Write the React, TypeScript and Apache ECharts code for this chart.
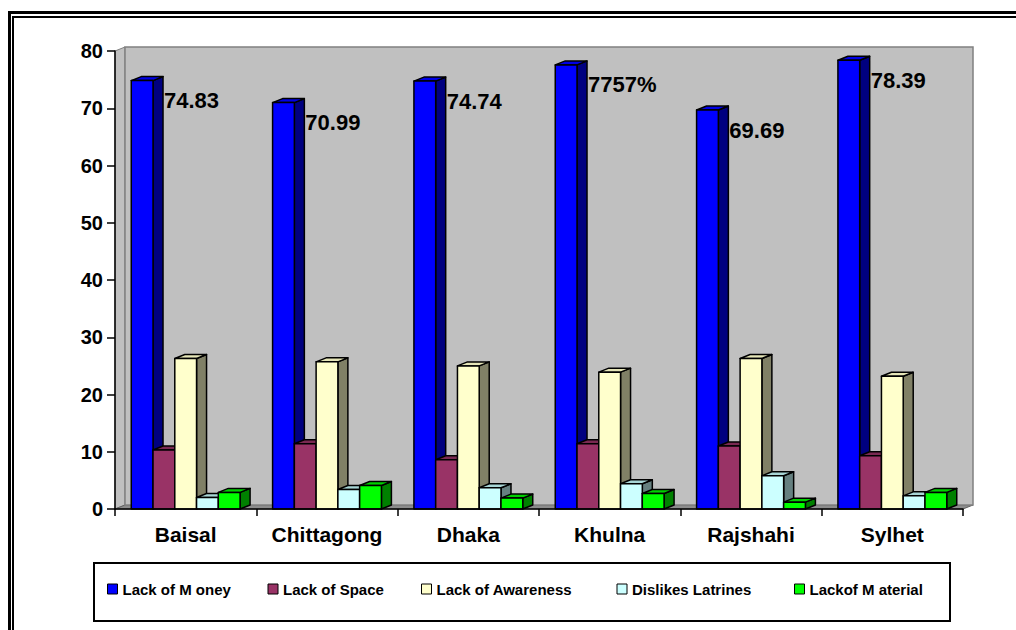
import React, { useEffect, useRef } from "react";
import * as echarts from "echarts";

const categories = ["Baisal", "Chittagong", "Dhaka", "Khulna", "Rajshahi", "Sylhet"];
const lackOfMoney = [74.83, 70.99, 74.74, 77.57, 69.69, 78.39];
const lackOfSpace = [10.3, 11.4, 8.6, 11.4, 11.0, 9.3];
const lackOfAwareness = [26.3, 25.7, 25.0, 23.9, 26.3, 23.2];
const dislikesLatrines = [2.0, 3.4, 3.7, 4.4, 5.8, 2.3];
const lackOfMaterial = [2.9, 4.1, 1.9, 2.7, 1.2, 2.9];
const moneyLabels = ["74.83", "70.99", "74.74", "7757%", "69.69", "78.39"];
const seriesNames = ["Lack of M oney", "Lack of Space", "Lack of Awareness", "Dislikes Latrines", "Lackof M aterial"];
const seriesValues = [lackOfMoney, lackOfSpace, lackOfAwareness, dislikesLatrines, lackOfMaterial];

const FONT = "'Liberation Sans', Arial, sans-serif";
const faceColors = ["#0000FF", "#993366", "#FFFFCC", "#CCFFFF", "#00FF00"];
const topColors = ["#0000E6", "#7A2952", "#E6E6B8", "#A8D6D6", "#00D000"];
const sideColors = ["#000080", "#4D1A33", "#808066", "#668080", "#008000"];
const legendTextWidths = [130, 123, 165, 147, 139];
const DX = 10;
const DY = -4;
const BAR_FRAC = 0.154;

function barGeom(api: any, k: number) {
  const ci = api.value(0);
  const v = api.value(1);
  const top = api.coord([ci, v]);
  const base = api.coord([ci, 0]);
  const band = api.size([1, 0])[0];
  const w = band * BAR_FRAC;
  const x0 = top[0] - 2.5 * w + k * w;
  return { x0, w, yTop: top[1], y0: base[1] };
}

export default function App() {
  const ref = useRef<HTMLDivElement>(null);
  useEffect(() => {
    if (!ref.current) return;
    const chart = echarts.init(ref.current, null, { renderer: "svg" });

    const wallSeries: any = {
      type: "custom",
      name: "__wall",
      silent: true,
      z: 1,
      data: [[0, 0]],
      renderItem: (params: any) => {
        const cs = params.coordSys;
        const l = cs.x, t = cs.y, r = cs.x + cs.width, b = cs.y + cs.height;
        return {
          type: "group",
          children: [
            {
              type: "polygon",
              shape: { points: [[l, t], [l + DX, t + DY], [l + DX, b + DY], [l, b]] },
              style: { fill: "#C0C0C0", stroke: "#808080", lineWidth: 1 },
            },
            {
              type: "polygon",
              shape: { points: [[l, b], [l + DX, b + DY], [r + DX, b + DY], [r, b]] },
              style: { fill: "#8C8C8C", stroke: "#606060", lineWidth: 1 },
            },
            {
              type: "rect",
              shape: { x: l + DX, y: t + DY, width: r - l, height: b - t },
              style: { fill: "#C0C0C0", stroke: "#808080", lineWidth: 1.5 },
            },
          ],
        };
      },
    };

    const barSeries: any[] = seriesValues.map((vals, k) => ({
      type: "custom",
      name: seriesNames[k],
      z: 3,
      itemStyle: { color: faceColors[k], borderColor: "#000", borderWidth: 1 },
      data: vals.map((v, i) => [i, v]),
      encode: { x: 0, y: 1 },
      renderItem: (params: any, api: any) => {
        const { x0, w, yTop, y0 } = barGeom(api, k);
        const st = { stroke: "#000", lineWidth: 1.5, lineJoin: "round" };
        return {
          type: "group",
          children: [
            {
              type: "polygon",
              shape: { points: [[x0 + w, yTop], [x0 + w + DX, yTop + DY], [x0 + w + DX, y0 + DY], [x0 + w, y0]] },
              style: { ...st, fill: sideColors[k] },
            },
            {
              type: "polygon",
              shape: { points: [[x0, yTop], [x0 + DX, yTop + DY], [x0 + w + DX, yTop + DY], [x0 + w, yTop]] },
              style: { ...st, fill: topColors[k] },
            },
            {
              type: "rect",
              shape: { x: x0, y: yTop, width: w, height: y0 - yTop },
              style: { ...st, fill: faceColors[k] },
            },
          ],
        };
      },
    }));

    const labelSeries: any = {
      type: "custom",
      name: "__labels",
      z: 5,
      silent: true,
      data: lackOfMoney.map((v, i) => [i, v]),
      encode: { x: 0, y: 1 },
      renderItem: (params: any, api: any) => {
        const { x0, w, yTop } = barGeom(api, 0);
        return {
          type: "text",
          style: {
            text: moneyLabels[params.dataIndex],
            x: x0 + w + DX + 1,
            y: yTop + 20,
            fill: "#000",
            fontSize: 22,
            fontWeight: "bold",
            fontFamily: FONT,
            align: "left",
            verticalAlign: "middle",
          },
        };
      },
    };

    const legendText = { color: "#000", fontSize: 15, fontWeight: "bold", fontFamily: FONT, lineHeight: 16 };

    const option: any = {
      animation: false,
      backgroundColor: "#FFFFFF",
      grid: { left: 115, right: 53, top: 51, bottom: 121, containLabel: false },
      xAxis: {
        type: "category",
        data: categories,
        z: 10,
        axisLine: { show: true, lineStyle: { color: "#000", width: 1.5 } },
        axisTick: { show: true, interval: 0, length: 7, lineStyle: { color: "#000", width: 1.5 } },
        axisLabel: { interval: 0, color: "#000", fontSize: 21, fontWeight: "bold", fontFamily: FONT, margin: 15 },
        splitLine: { show: false },
      },
      yAxis: {
        type: "value",
        min: 0,
        max: 80,
        interval: 10,
        z: 10,
        axisLine: { show: true, lineStyle: { color: "#000", width: 1.5 } },
        axisTick: { show: true, length: 8, lineStyle: { color: "#000", width: 1.5 } },
        axisLabel: { color: "#000", fontSize: 20, fontWeight: "bold", fontFamily: FONT, margin: 12 },
        splitLine: { show: false },
      },
      legend: {
        left: 102,
        top: 576,
        orient: "horizontal",
        itemWidth: 10,
        itemHeight: 10,
        itemGap: 15,
        icon: "rect",
        selectedMode: false,
        itemStyle: { borderColor: "#000", borderWidth: 1 },
        textStyle: legendText,
        data: seriesNames.map((n, k) => ({ name: n, textStyle: { ...legendText, width: legendTextWidths[k] } })),
      },
      graphic: [
        {
          type: "rect",
          silent: true,
          shape: { x: 9.5, y: 12.5, width: 1040, height: 660 },
          style: { fill: "none", stroke: "#000", lineWidth: 3 },
        },
        {
          type: "rect",
          silent: true,
          shape: { x: 13, y: 17, width: 1040, height: 660 },
          style: { fill: "none", stroke: "#000", lineWidth: 2 },
        },
        {
          type: "rect",
          silent: true,
          z: -1,
          shape: { x: 94, y: 563, width: 856, height: 58 },
          style: { fill: "#FFFFFF", stroke: "#000", lineWidth: 2 },
        },
      ],
      series: [wallSeries, ...barSeries, labelSeries],
    };
    chart.setOption(option);
    return () => chart.dispose();
  }, []);
  return (
    <div
      ref={ref}
      style={{ position: "fixed", left: 0, top: 0, width: 1016, height: 630, background: "#fff" }}
    />
  );
}
